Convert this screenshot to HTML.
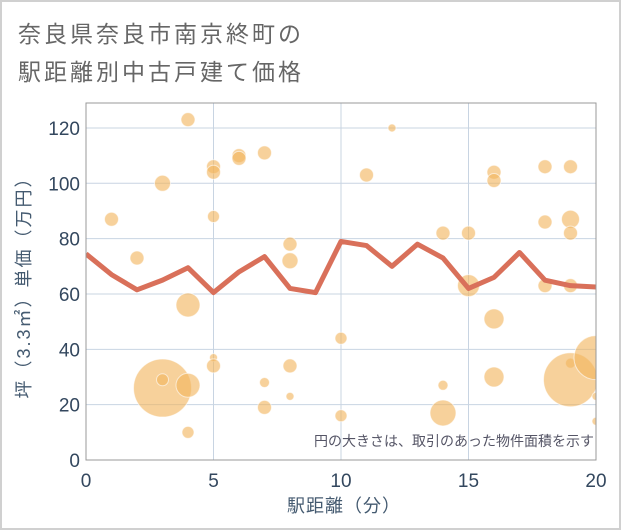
<!DOCTYPE html>
<html><head><meta charset="utf-8"><style>
body{margin:0;background:#fff}
svg{display:block;font-family:"Liberation Sans","Noto Sans CJK JP",sans-serif}
</style></head><body>
<svg id="c" width="621" height="530" viewBox="0 0 621 530">
<rect x="1" y="1" width="619" height="528" fill="#fff" stroke="#d0d0d0" stroke-width="2"/>
<text x="18" y="42" font-size="23" letter-spacing="3" fill="#666">奈良県奈良市南京終町の</text>
<text x="18" y="80" font-size="23" letter-spacing="3" fill="#666">駅距離別中古戸建て価格</text>
<defs><clipPath id="pc"><rect x="86" y="103" width="510" height="357"/></clipPath></defs>
<g id="grid"></g>
<g id="bubbles" clip-path="url(#pc)"></g>
<g id="line" clip-path="url(#pc)"></g>
<rect x="86" y="103" width="510" height="357" fill="none" stroke="#999" stroke-width="1"/>
<g id="ticks"></g>
<text x="594" y="446" font-size="14" fill="#556" text-anchor="end">円の大きさは、取引のあった物件面積を示す</text>
<text x="344" y="512" font-size="18" letter-spacing="1" fill="#445a70" text-anchor="middle">駅距離（分）</text>
<text transform="translate(30,283) rotate(-90)" font-size="18" letter-spacing="2" fill="#445a70" text-anchor="middle">坪（3.3㎡）単価（万円）</text>
</svg>
<script>
const xTicks=[0,5,10,15,20];
const yTicks=[0,20,40,60,80,100,120];
const lineX=[0,1,2,3,4,5,6,7,8,9,10,11,12,13,14,15,16,17,18,19,20];
const lineY=[74.5,67,61.5,65,69.5,60.5,68,73.5,62,60.5,79,77.5,70,78,73,62,66,75,65,63,62.5];
const bx=[4,5,5,6,6,7,3,1,5,2,8,8,4,10,5,5,8,3,3,4,7,8,7,4,10,12,11,14,15,14,14,15,16,16,16,16,18,19,18,19,19,18,19,19,19,20,20,20];
const by=[123,106,104,110,109,111,100,87,88,73,78,72,56,44,37,34,34,26,29,27,28,23,19,10,16,120,103,82,82,27,17,63,104,101,51,30,106,106,86,87,82,63,63,35,29,37,23,14];
const br=[7,7,7,7,7,7,8,7,6,7,7,8,12,6,4,7,7,29,6,12,5,4,7,6,6,4,7,7,7,5,13,11,7,7,10,10,7,7,7,9,7,7,7,5,27,22,4,4];
const X=v=>86+v*25.5, Y=v=>460-v*2.767;
const NS='http://www.w3.org/2000/svg';
function mk(t,a,p){const e=document.createElementNS(NS,t);for(const k in a)e.setAttribute(k,a[k]);p.appendChild(e);return e;}
const g=document.getElementById('grid'),tk=document.getElementById('ticks');
xTicks.forEach(v=>{
 const l=mk('line',{x1:X(v),x2:X(v),y1:103,y2:460,stroke:'#c8d4e2','stroke-width':1},g);
 
 
 const t=mk('text',{x:X(v),y:487,'font-size':19,fill:'#33475e','text-anchor':'middle'},tk);t.textContent=v;
 
 
});
yTicks.forEach(v=>{
 const l=mk('line',{x1:86,x2:596,y1:Y(v),y2:Y(v),stroke:'#c8d4e2','stroke-width':1},g);
 
 
 const t=mk('text',{x:80,y:Y(v)+7,'font-size':19,fill:'#33475e','text-anchor':'end'},tk);t.textContent=v;
 
 
});
const bg=document.getElementById('bubbles');
bx.forEach((v,i)=>{
 const c=mk('circle',{cx:X(v),cy:Y(by[i]),r:br[i],fill:'#f2b55e','fill-opacity':0.62,stroke:'#fff','stroke-opacity':0.6,'stroke-width':1},bg);
 
 
});
const p=mk('polyline',{points:lineX.map((v,i)=>X(v)+','+Y(lineY[i])).join(' '),fill:'none',stroke:'#d9705a','stroke-width':5,'stroke-linejoin':'round'},document.getElementById('line'));


</script>
</body></html>
